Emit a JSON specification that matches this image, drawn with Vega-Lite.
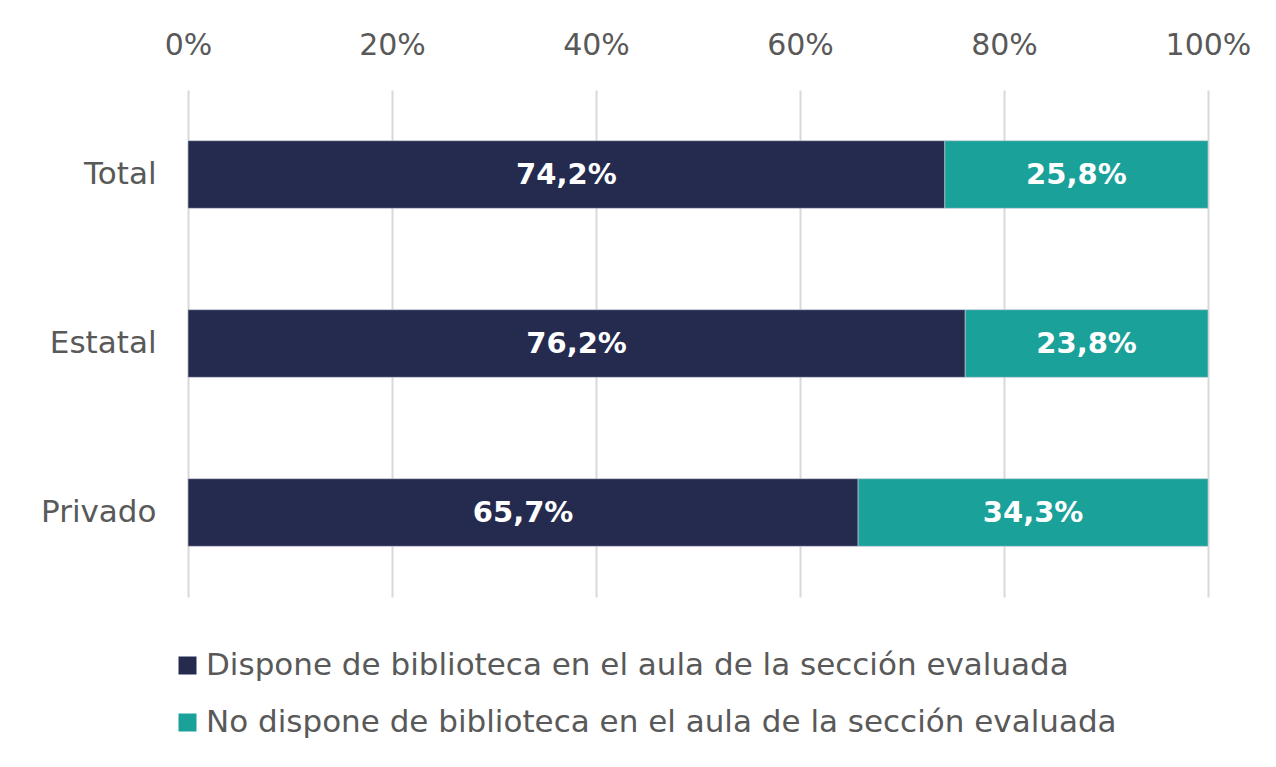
{
  "$schema": "https://vega.github.io/schema/vega-lite/v6.json",
  "width": 1020,
  "height": 507,
  "autosize": "none",
  "padding": {"left": 188, "top": 90, "right": 68, "bottom": 170},
  "background": "white",
  "config": {
    "view": {"stroke": null},
    "font": "DejaVu Sans"
  },
  "data": {
    "values": [
      {"grupo": "Total", "categoria": "Dispone de biblioteca en el aula de la sección evaluada", "orden": 1, "valor": 74.2, "etiqueta": "74,2%"},
      {"grupo": "Total", "categoria": "No dispone de biblioteca en el aula de la sección evaluada", "orden": 2, "valor": 25.8, "etiqueta": "25,8%"},
      {"grupo": "Estatal", "categoria": "Dispone de biblioteca en el aula de la sección evaluada", "orden": 1, "valor": 76.2, "etiqueta": "76,2%"},
      {"grupo": "Estatal", "categoria": "No dispone de biblioteca en el aula de la sección evaluada", "orden": 2, "valor": 23.8, "etiqueta": "23,8%"},
      {"grupo": "Privado", "categoria": "Dispone de biblioteca en el aula de la sección evaluada", "orden": 1, "valor": 65.7, "etiqueta": "65,7%"},
      {"grupo": "Privado", "categoria": "No dispone de biblioteca en el aula de la sección evaluada", "orden": 2, "valor": 34.3, "etiqueta": "34,3%"}
    ]
  },
  "encoding": {
    "y": {
      "field": "grupo", "type": "nominal", "sort": null,
      "scale": {"paddingInner": 0.6, "paddingOuter": 0.3},
      "axis": {"title": null, "ticks": false, "domain": false, "labelFontSize": 31, "labelColor": "#595959", "labelPadding": 32, "labelFont": "DejaVu Sans"}
    },
    "x": {
      "field": "valor", "type": "quantitative", "stack": "zero",
      "scale": {"domain": [0, 100], "nice": false},
      "axis": {"orient": "top", "title": null, "values": [0, 20, 40, 60, 80, 100], "labelExpr": "datum.value + '%'", "labelFlush": false, "ticks": false, "domain": false, "grid": true, "gridColor": "#d9d9d9", "gridWidth": 2, "labelFontSize": 30, "labelColor": "#595959", "labelPadding": 30, "labelFont": "DejaVu Sans"}
    },
    "order": {"field": "orden", "type": "quantitative"}
  },
  "layer": [
    {
      "mark": {"type": "bar", "stroke": "#c8cbd6", "strokeWidth": 1, "strokeOpacity": 0.6},
      "encoding": {
        "color": {
          "field": "categoria", "type": "nominal",
          "scale": {"domain": ["Dispone de biblioteca en el aula de la sección evaluada", "No dispone de biblioteca en el aula de la sección evaluada"], "range": ["#252B4F", "#1AA19A"]},
          "legend": {"orient": "none", "legendX": -16, "legendY": 560, "title": null, "symbolType": "square", "symbolSize": 324, "symbolStrokeWidth": 0, "labelFontSize": 31, "labelColor": "#595959", "labelFont": "DejaVu Sans", "labelOffset": 3, "rowPadding": 25, "padding": 0, "labelLimit": 1200}
        }
      }
    },
    {
      "mark": {"type": "text", "color": "white", "fontSize": 29, "fontWeight": "bold", "font": "DejaVu Sans"},
      "encoding": {
        "x": {"field": "valor", "type": "quantitative", "stack": "zero", "bandPosition": 0.5},
        "text": {"field": "etiqueta"}
      }
    }
  ]
}
